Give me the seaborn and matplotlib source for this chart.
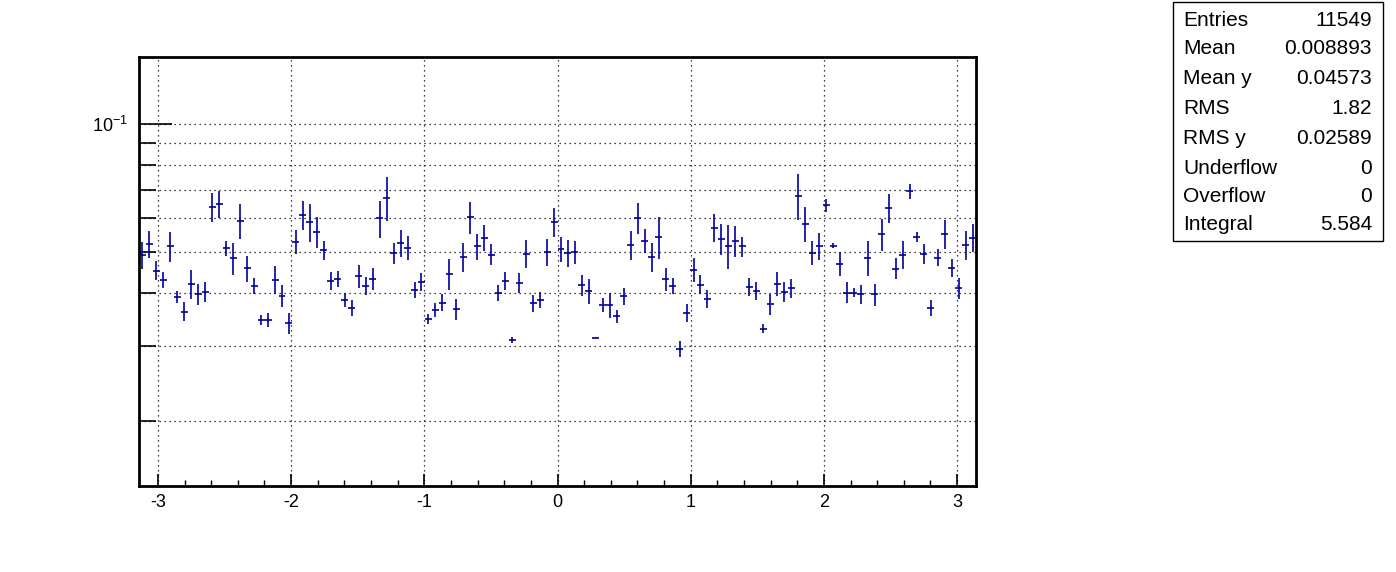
import numpy as np
import pandas as pd
import matplotlib
matplotlib.use("Agg")
import matplotlib.pyplot as plt
from matplotlib.ticker import FixedLocator, NullFormatter
import seaborn as sns

# perfil: 120 bins entre -pi e pi
n_bins = 120
x_min, x_max = -np.pi, np.pi

medias = [
    0.0491, 0.0522, 0.0452, 0.0430, 0.0515, 0.0392, 0.0362, 0.0421, 0.0397, 0.0403,
    0.0638, 0.0648, 0.0510, 0.0484, 0.0592, 0.0458, 0.0416, 0.0346, 0.0346, 0.0430,
    0.0394, 0.0340, 0.0528, 0.0611, 0.0588, 0.0557, 0.0505, 0.0427, 0.0432, 0.0386,
    0.0369, 0.0439, 0.0416, 0.0432, 0.0600, 0.0670, 0.0497, 0.0525, 0.0511, 0.0407,
    0.0425, 0.0348, 0.0365, 0.0380, 0.0444, 0.0366, 0.0487, 0.0604, 0.0515, 0.0540,
    0.0493, 0.0401, 0.0427, 0.0311, 0.0423, 0.0495, 0.0379, 0.0386, 0.0500, 0.0588,
    0.0508, 0.0497, 0.0500, 0.0418, 0.0405, 0.0314, 0.0375, 0.0375, 0.0353, 0.0393,
    0.0520, 0.0602, 0.0531, 0.0487, 0.0543, 0.0431, 0.0416, 0.0296, 0.0360, 0.0454,
    0.0419, 0.0388, 0.0570, 0.0536, 0.0517, 0.0531, 0.0515, 0.0414, 0.0405, 0.0330,
    0.0377, 0.0421, 0.0403, 0.0411, 0.0678, 0.0582, 0.0498, 0.0515, 0.0645, 0.0517,
    0.0469, 0.0401, 0.0401, 0.0397, 0.0485, 0.0397, 0.0551, 0.0634, 0.0457, 0.0493,
    0.0694, 0.0542, 0.0495, 0.0369, 0.0485, 0.0551, 0.0459, 0.0411, 0.0519, 0.0540,
]

erros = [
    0.00354, 0.00376, 0.00236, 0.00194, 0.00422, 0.00127, 0.00186, 0.00330, 0.00222, 0.00214,
    0.00488, 0.00478, 0.00211, 0.00418, 0.00570, 0.00322, 0.00180, 0.00100, 0.00134, 0.00325,
    0.00230, 0.00190, 0.00342, 0.00489, 0.00598, 0.00471, 0.00268, 0.00204, 0.00194, 0.00149,
    0.00163, 0.00269, 0.00206, 0.00260, 0.00594, 0.00784, 0.00277, 0.00378, 0.00327, 0.00179,
    0.00203, 0.00097, 0.00145, 0.00178, 0.00380, 0.00211, 0.00390, 0.00522, 0.00357, 0.00374,
    0.00284, 0.00180, 0.00204, 0.00050, 0.00228, 0.00370, 0.00171, 0.00170, 0.00374, 0.00460,
    0.00352, 0.00367, 0.00306, 0.00233, 0.00270, 0.00011, 0.00145, 0.00246, 0.00127, 0.00187,
    0.00402, 0.00498, 0.00349, 0.00377, 0.00621, 0.00275, 0.00183, 0.00133, 0.00175, 0.00286,
    0.00215, 0.00196, 0.00426, 0.00453, 0.00624, 0.00454, 0.00273, 0.00212, 0.00197, 0.00080,
    0.00217, 0.00277, 0.00218, 0.00215, 0.00830, 0.00555, 0.00323, 0.00375, 0.00226, 0.00074,
    0.00308, 0.00227, 0.00101, 0.00200, 0.00454, 0.00243, 0.00481, 0.00502, 0.00255, 0.00373,
    0.00287, 0.00146, 0.00267, 0.00166, 0.00223, 0.00436, 0.00231, 0.00226, 0.00406, 0.00408,
]

stats_nomes = ["Entries", "Mean", "Mean y", "RMS", "RMS y", "Underflow", "Overflow", "Integral"]
stats_valores = ["11549", "0.008893", "0.04573", "1.82", "0.02589", "0", "0", "5.584"]

x_ticks = [-3, -2, -1, 0, 1, 2, 3]

bordas = np.linspace(x_min, x_max, n_bins + 1)
df = pd.DataFrame({
    "x": 0.5 * (bordas[:-1] + bordas[1:]),
    "y": medias,
    "erro": erros,
})
meia_largura = 0.5 * (x_max - x_min) / n_bins

sns.set_style("white")
plt.rcParams["font.family"] = ["Liberation Sans", "DejaVu Sans"]
plt.rcParams["mathtext.fontset"] = "custom"
plt.rcParams["mathtext.rm"] = "Liberation Sans"
for chave in ["text.color", "xtick.color", "ytick.color", "axes.labelcolor"]:
    plt.rcParams[chave] = "black"

fig = plt.figure(figsize=(13.96, 5.72), dpi=100)
ax = fig.add_axes([139 / 1396, 1 - 486 / 572, (976 - 139) / 1396, (486 - 57) / 572])

ax.errorbar(df["x"], df["y"], yerr=df["erro"], xerr=meia_largura,
            fmt="none", ecolor="#000099", elinewidth=1.2, capsize=0, zorder=3)

ax.set_yscale("log")
ax.set_xlim(x_min, x_max)
ax.set_ylim(0.01406, 0.1438)

# eixo x
ax.xaxis.set_major_locator(FixedLocator(x_ticks))
ax.set_xticklabels([str(t) for t in x_ticks])
ax.xaxis.set_minor_locator(FixedLocator(np.arange(-3.2, 3.21, 0.2)))

# eixo y (log)
ax.yaxis.set_major_locator(FixedLocator([0.1]))
ax.set_yticklabels([r"$\mathregular{10^{-1}}$"])
ax.yaxis.set_minor_locator(FixedLocator([0.02, 0.03, 0.04, 0.05, 0.06, 0.07, 0.08, 0.09]))
ax.yaxis.set_minor_formatter(NullFormatter())

ax.tick_params(axis="x", which="major", direction="in", length=9, width=1.2,
               labelsize=13, pad=6, bottom=True, top=False)
ax.tick_params(axis="x", which="minor", direction="in", length=4.5, width=1.0,
               bottom=True, top=False)
ax.tick_params(axis="y", which="major", direction="in", length=24, width=1.2,
               labelsize=13, pad=8, left=True, right=False)
ax.tick_params(axis="y", which="minor", direction="in", length=12, width=1.2,
               left=True, right=False)

ax.grid(True, which="major", axis="x", color="black", linestyle=(0, (1, 3)), linewidth=0.9)
ax.grid(True, which="both", axis="y", color="black", linestyle=(0, (1, 3)), linewidth=0.9)

for lado in ax.spines.values():
    lado.set_linewidth(2)
    lado.set_color("black")

# caixa de estatisticas
caixa = plt.Rectangle((1173 / 1396, 1 - 241 / 572), 210 / 1396, 239 / 572,
                      transform=fig.transFigure, facecolor="white",
                      edgecolor="black", linewidth=1)
fig.add_artist(caixa)
linhas_y = [21, 49, 78, 109, 138, 168, 197, 225]
for nome, valor, yp in zip(stats_nomes, stats_valores, linhas_y):
    fig.text(1183 / 1396, 1 - yp / 572, nome, fontsize=15, ha="left", va="center")
    fig.text(1372 / 1396, 1 - yp / 572, valor, fontsize=15, ha="right", va="center")

fig.savefig("out.png", dpi=100)
